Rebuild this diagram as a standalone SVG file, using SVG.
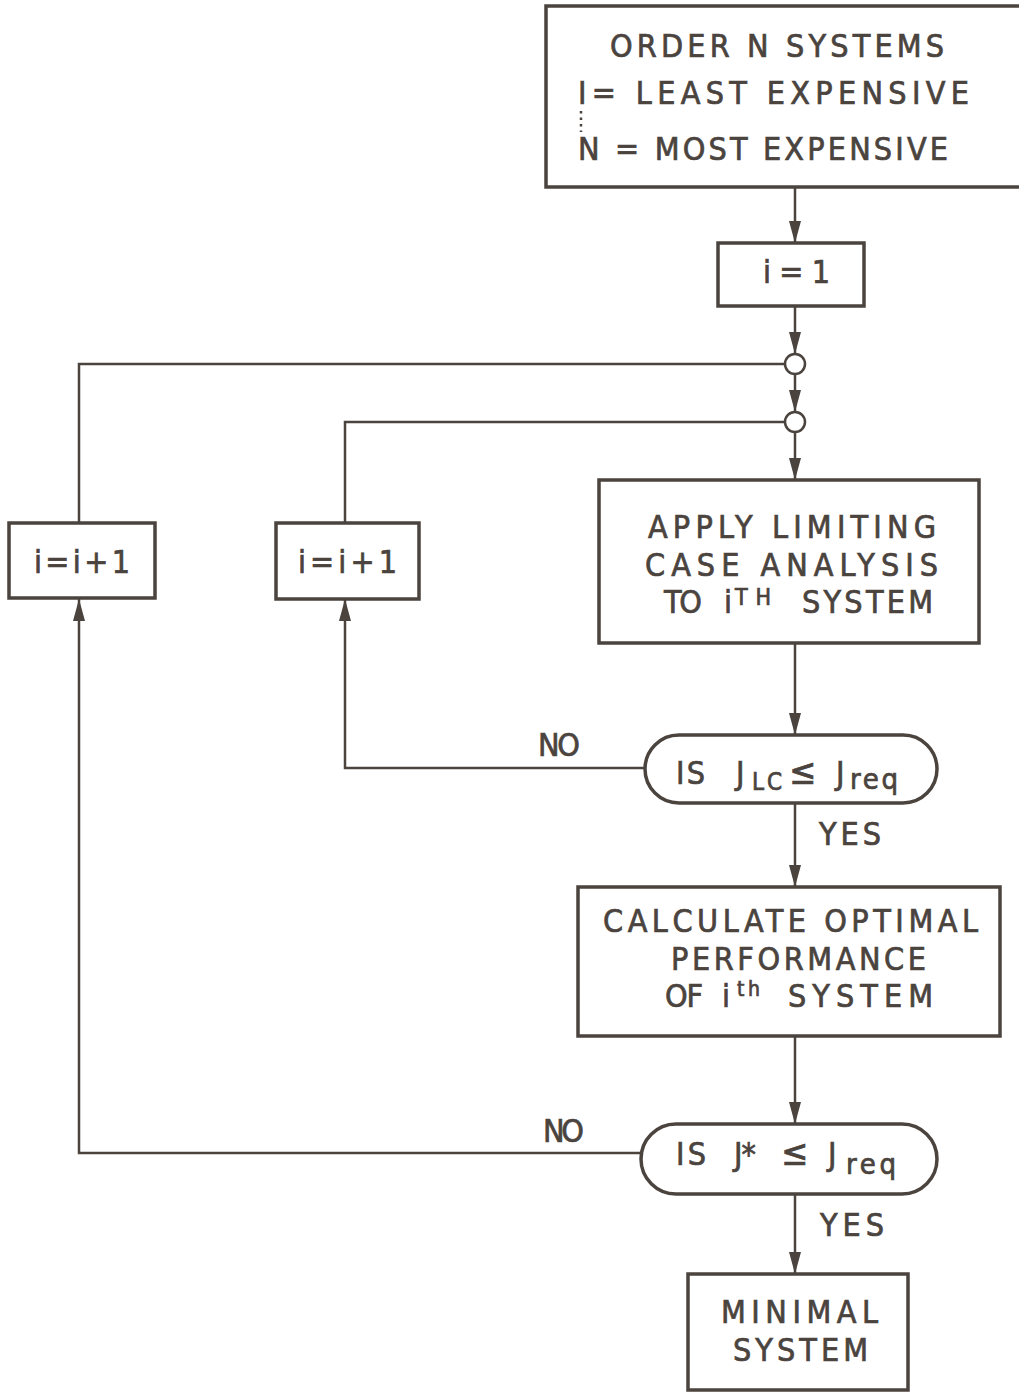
<svg xmlns="http://www.w3.org/2000/svg" width="1019" height="1393" viewBox="0 0 1019 1393">
<style>
.b{fill:none;stroke:#4a433e;stroke-width:3.5}
.c{fill:none;stroke:#4a433e;stroke-width:2.5}
.t{font-family:"DejaVu Sans Condensed","DejaVu Sans","Liberation Sans",sans-serif;font-stretch:condensed;font-size:32px;fill:#4a433e;stroke:#4a433e;stroke-width:0.7}
.m{font-size:24px}
.sup{font-size:23px;font-stretch:normal}
.sup2{font-size:21px}
.r{font-size:29px}
.le{font-size:36px}
</style>
<defs>
<marker id="a" markerWidth="22" markerHeight="12" refX="22" refY="6" orient="auto" markerUnits="userSpaceOnUse" viewBox="0 0 22 12">
<path d="M0,0 L22,6 L0,12 Z" fill="#4a433e"/>
</marker>
</defs>
<rect width="1019" height="1393" fill="#fff"/>
<g id="connectors">
<line class="c" x1="795" y1="187" x2="795" y2="243" marker-end="url(#a)"/>
<line class="c" x1="795" y1="306" x2="795" y2="354" marker-end="url(#a)"/>
<line class="c" x1="795" y1="374" x2="795" y2="412" marker-end="url(#a)"/>
<line class="c" x1="795" y1="432" x2="795" y2="480" marker-end="url(#a)"/>
<circle class="c" cx="795" cy="364" r="10"/>
<circle class="c" cx="795" cy="422" r="10"/>
<polyline class="c" points="785,364 79,364 79,523"/>
<polyline class="c" points="785,422 345,422 345,523"/>
<line class="c" x1="795" y1="643" x2="795" y2="735" marker-end="url(#a)"/>
<polyline class="c" points="645,768 345,768 345,599" marker-end="url(#a)"/>
<line class="c" x1="795" y1="803" x2="795" y2="887" marker-end="url(#a)"/>
<line class="c" x1="795" y1="1036" x2="795" y2="1124" marker-end="url(#a)"/>
<polyline class="c" points="641,1153 79,1153 79,599" marker-end="url(#a)"/>
<line class="c" x1="795" y1="1194" x2="795" y2="1274" marker-end="url(#a)"/>
<text class="t" x="538" y="756" textLength="42" lengthAdjust="spacing">NO</text>
<text class="t" x="819" y="845" textLength="62" lengthAdjust="spacing">YES</text>
<text class="t" x="543" y="1142" textLength="41" lengthAdjust="spacing">NO</text>
<text class="t" x="820" y="1236" textLength="64" lengthAdjust="spacing">YES</text>
</g>
<g id="order">
<rect class="b" x="546" y="6" width="480" height="181"/>
<text class="t" x="610" y="57" textLength="334" lengthAdjust="spacing">ORDER N SYSTEMS</text>
<text class="t" x="578" y="104" textLength="391" lengthAdjust="spacing">I= LEAST EXPENSIVE</text>
<line x1="581" y1="111" x2="581" y2="132" stroke="#4a433e" stroke-width="2.5" stroke-dasharray="2.5,4"/>
<text class="t" x="578" y="160" textLength="370" lengthAdjust="spacing">N = MOST EXPENSIVE</text>
</g>
<g id="init">
<rect class="b" x="718" y="243" width="146" height="63"/>
<text class="t" x="763" y="283" textLength="67" lengthAdjust="spacing">i = 1</text>
</g>
<g id="inc1">
<rect class="b" x="9" y="523" width="146" height="75"/>
<text class="t" x="34" y="573" textLength="96" lengthAdjust="spacing">i=i+1</text>
</g>
<g id="inc2">
<rect class="b" x="276" y="523" width="143" height="76"/>
<text class="t" x="298" y="573" textLength="99" lengthAdjust="spacing">i=i+1</text>
</g>
<g id="apply">
<rect class="b" x="599" y="480" width="380" height="163"/>
<text class="t" x="648" y="538" textLength="288" lengthAdjust="spacing">APPLY LIMITING</text>
<text class="t" x="645" y="576" textLength="293" lengthAdjust="spacing">CASE ANALYSIS</text>
<text class="t" x="664" y="613" textLength="38" lengthAdjust="spacing">TO</text>
<text class="t" x="724" y="613">i</text>
<text class="t sup" x="735" y="605" textLength="36" lengthAdjust="spacing">TH</text>
<text class="t" x="802" y="613" textLength="131" lengthAdjust="spacing">SYSTEM</text>
</g>
<g id="dec1">
<rect class="b" x="645" y="735" width="292" height="68" rx="34"/>
<text class="t" x="676" y="784" textLength="29" lengthAdjust="spacing">IS</text>
<text class="t" x="736" y="784">J</text>
<text class="t m" x="752" y="790" textLength="30" lengthAdjust="spacing">LC</text>
<text class="t le" x="789" y="784">≤</text>
<text class="t" x="836" y="784">J</text>
<text class="t r" x="850" y="789" textLength="48" lengthAdjust="spacing">req</text>
</g>
<g id="calc">
<rect class="b" x="578" y="887" width="422" height="149"/>
<text class="t" x="603" y="932" textLength="375" lengthAdjust="spacing">CALCULATE OPTIMAL</text>
<text class="t" x="671" y="970" textLength="255" lengthAdjust="spacing">PERFORMANCE</text>
<text class="t" x="665" y="1007" textLength="38" lengthAdjust="spacing">OF</text>
<text class="t" x="722" y="1007">i</text>
<text class="t sup2" x="737" y="996" textLength="23" lengthAdjust="spacing">th</text>
<text class="t" x="788" y="1007" textLength="145" lengthAdjust="spacing">SYSTEM</text>
</g>
<g id="dec2">
<rect class="b" x="641" y="1124" width="296" height="70" rx="35"/>
<text class="t" x="676" y="1165" textLength="30" lengthAdjust="spacing">IS</text>
<text class="t" x="734" y="1165" textLength="22" lengthAdjust="spacing">J*</text>
<text class="t le" x="781" y="1165">≤</text>
<text class="t" x="828" y="1165">J</text>
<text class="t r" x="846" y="1174" textLength="50" lengthAdjust="spacing">req</text>
</g>
<g id="minimal">
<rect class="b" x="688" y="1274" width="220" height="116"/>
<text class="t" x="721" y="1323" textLength="157" lengthAdjust="spacing">MINIMAL</text>
<text class="t" x="733" y="1361" textLength="135" lengthAdjust="spacing">SYSTEM</text>
</g>
</svg>
